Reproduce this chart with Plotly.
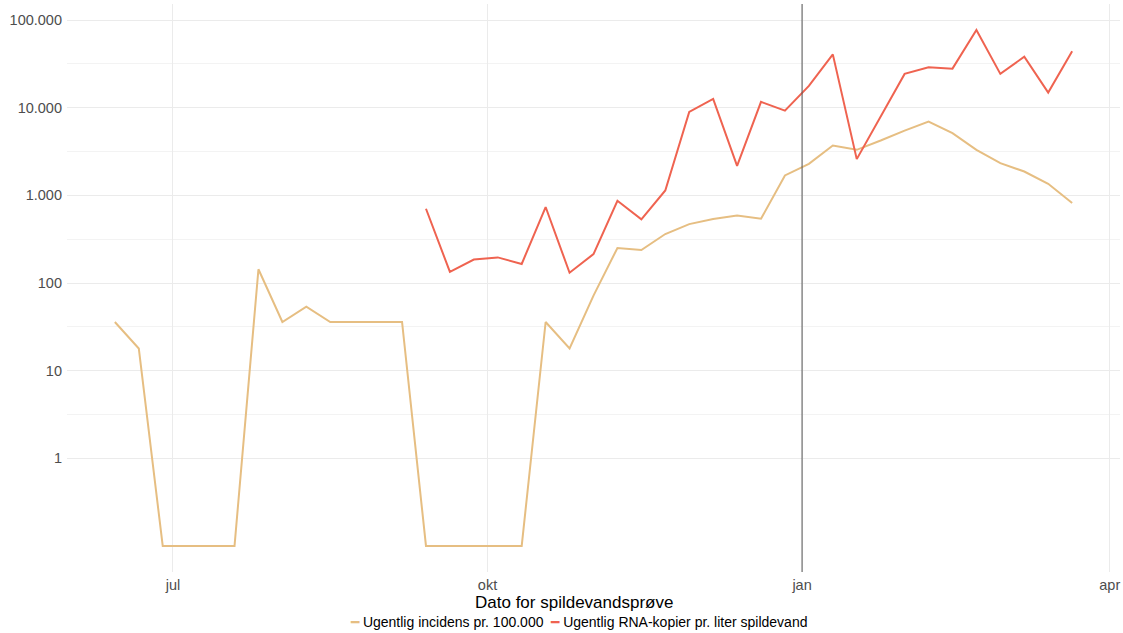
import plotly.graph_objects as go

# ---- data ----
week_dates = [
    "2021-06-14", "2021-06-21", "2021-06-28", "2021-07-05", "2021-07-12", "2021-07-19", "2021-07-26",
    "2021-08-02", "2021-08-09", "2021-08-16", "2021-08-23", "2021-08-30", "2021-09-06", "2021-09-13",
    "2021-09-20", "2021-09-27", "2021-10-04", "2021-10-11", "2021-10-18", "2021-10-25", "2021-11-01",
    "2021-11-08", "2021-11-15", "2021-11-22", "2021-11-29", "2021-12-06", "2021-12-13", "2021-12-20",
    "2021-12-27", "2022-01-03", "2022-01-10", "2022-01-17", "2022-01-24", "2022-01-31", "2022-02-07",
    "2022-02-14", "2022-02-21", "2022-02-28", "2022-03-07", "2022-03-14", "2022-03-21",
]

incidence = [
    35.9, 17.9, 0, 0, 0, 0, 143.6, 35.9, 53.8, 35.9, 35.9, 35.9, 35.9, 0,
    0, 0, 0, 0, 35.9, 17.9, 71.8, 251, 238, 362, 470, 538, 587, 541,
    1686, 2290, 3700, 3305, 4220, 5485, 6950, 5120, 3305, 2330, 1870, 1355, 817,
]

rna_copies = [
    None, None, None, None, None, None, None, None, None, None, None, None, None, 703,
    134, 185, 196, 165, 736, 131, 214, 868, 532, 1137, 8950, 12600, 2173, 11650,
    9270, 17700, 40600, 2590, 7900, 24300, 28900, 27900, 76900, 24300, 38200, 14900, 44000,
]

series_names = ["Ugentlig incidens pr. 100.000", "Ugentlig RNA-kopier pr. liter spildevand"]
series_colors = ["#e6be82", "#ef6350"]

y_tickvals = [1, 10, 100, 1000, 10000, 100000]
y_ticktext = ["1", "10", "100", "1.000", "10.000", "100.000"]
y_minor = [3.1623, 31.623, 316.23, 3162.3, 31623]

x_tickvals = ["2021-07-01", "2021-10-01", "2022-01-01", "2022-04-01"]
x_ticktext = ["jul", "okt", "jan", "apr"]

marker_date = "2022-01-01"
zero_floor = 0.1  # zero weeks are drawn at 0.1 on the log axis
x_title = "Dato for spildevandsprøve"

FONT = "Liberation Sans, Arial, sans-serif"

# ---- figure ----
fig = go.Figure()
inc_plot = [v if v > 0 else zero_floor for v in incidence]
fig.add_trace(go.Scatter(x=week_dates, y=inc_plot, mode="lines", name=series_names[0],
                         line=dict(color=series_colors[0], width=2), showlegend=False))
fig.add_trace(go.Scatter(x=week_dates, y=rna_copies, mode="lines", name=series_names[1],
                         line=dict(color=series_colors[1], width=2), showlegend=False))

fig.add_shape(type="line", xref="x", yref="paper", x0=marker_date, x1=marker_date, y0=0, y1=1,
              line=dict(color="#555555", width=1), layer="above")

fig.update_layout(
    width=1123, height=633, autosize=False,
    margin=dict(l=67, r=3, t=4, b=61),
    plot_bgcolor="white", paper_bgcolor="white",
    font=dict(family=FONT, color="#4d4d4d"),
    xaxis=dict(
        type="date", range=["2021-05-31", "2022-04-04"],
        tickmode="array", tickvals=x_tickvals, ticktext=x_ticktext,
        showgrid=True, gridcolor="#ebebeb", gridwidth=1,
        zeroline=False, showline=False, ticks="",
        tickfont=dict(size=14.5, color="#4d4d4d", family=FONT),
        ticklabelstandoff=2,
    ),
    yaxis=dict(
        type="log", range=[-1.297, 5.183],
        tickmode="array", tickvals=y_tickvals, ticktext=y_ticktext,
        showgrid=True, gridcolor="#ebebeb", gridwidth=1,
        minor=dict(tickmode="array", tickvals=y_minor, showgrid=True, gridcolor="#f3f3f3", gridwidth=1, ticks=""),
        zeroline=False, showline=False, ticks="",
        tickfont=dict(size=14.5, color="#4d4d4d", family=FONT),
        ticklabelstandoff=4,
    ),
)

# x-axis title and legend (drawn as text below the panel)
fig.add_annotation(text=x_title, xref="paper", yref="paper", x=0.4815, y=-0.0535,
                   xanchor="center", yanchor="middle", showarrow=False,
                   font=dict(size=17, color="black", family=FONT))

legend_text = (
    f"<span style='color:{series_colors[0]}'>━</span> {series_names[0]}  "
    f"<span style='color:{series_colors[1]}'>━</span> {series_names[1]}"
)
fig.add_annotation(text=legend_text, xref="paper", yref="paper", x=0.4855, y=-0.0875,
                   xanchor="center", yanchor="middle", showarrow=False,
                   font=dict(size=14, color="black", family=FONT))

fig.write_html("out.html", config={"displayModeBar": False},
               post_script="document.body.style.margin='0px';")
